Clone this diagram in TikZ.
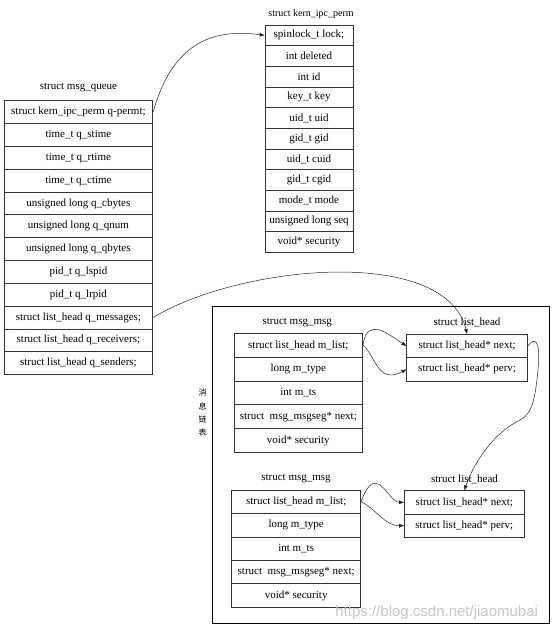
\documentclass[tikz,border=0pt]{standalone}
\usepackage{fontspec}
\setmainfont{Liberation Serif}
\newfontfamily\cjkfont{Noto Sans CJK SC}
\newfontfamily\wmfont{Liberation Sans}
\usetikzlibrary{arrows.meta}
\begin{document}
\begin{tikzpicture}[x=1pt,y=-1pt,
  cell/.style={draw=black!80, line width=0.7pt, inner sep=0pt, font=\fontsize{11}{13}\selectfont},
  title/.style={inner sep=0pt, font=\fontsize{11}{13}\selectfont},
  link/.style={-{Triangle[length=5pt,width=3.6pt]}, line width=0.5pt, draw=black!85},
]
\useasboundingbox (0,0) rectangle (554,630);

% struct msg_queue
\node[title] (tq) at (78.4,87.3) {struct msg\_queue};
\foreach \txt [count=\i] in {{struct kern\_ipc\_perm q-permt;},{time\_t q\_stime},{time\_t q\_rtime},{time\_t q\_ctime},{unsigned long q\_cbytes},{unsigned long q\_qnum},{unsigned long q\_qbytes},{pid\_t q\_lspid},{pid\_t q\_lrpid},{struct list\_head q\_messages;},{struct list\_head q\_receivers;},{struct list\_head q\_senders;}}
  \node[cell, minimum width=148.7pt, minimum height=22.82pt] (q\i) at (78.4,{100.7+(\i-0.5)*22.82}) {\txt};

% struct kern_ipc_perm
\node[title, font=\fontsize{10}{12}\selectfont] (tk) at (311,14) {struct kern\_ipc\_perm};
\foreach \txt [count=\i] in {{spinlock\_t lock;},{int deleted},{int id},{key\_t key},{uid\_t uid},{gid\_t gid},{uid\_t cuid},{gid\_t cgid},{mode\_t mode},{unsigned long seq},{void* security}}
  \node[cell, minimum width=88pt, minimum height=20.66pt] (k\i) at (309,{25+(\i-0.5)*20.66}) {\txt};

% frame
\node[draw=black, line width=0.7pt, minimum width=337.2pt, minimum height=316.6pt, inner sep=0pt] (frame) at (380.9,465) {};
\node[inner sep=0pt, align=center, font=\cjkfont\fontsize{8}{13.3}\selectfont] (lbl) at (202.5,412.7) {消\\息\\链\\表};

% first msg_msg
\node[title] (tma) at (297.2,322.5) {struct msg\_msg};
\foreach \txt [count=\i] in {{struct list\_head m\_list;},{long m\_type},{int m\_ts},{struct\ \ msg\_msgseg* next;},{void* security}}
  \node[cell, minimum width=128.7pt, minimum height=23.8pt] (ma\i) at (298.3,{333.3+(\i-0.5)*23.8}) {\txt};

% first list_head
\node[title] (tla) at (467,322.5) {struct list\_head};
\foreach \txt [count=\i] in {{struct list\_head* next;},{struct list\_head* perv;}}
  \node[cell, minimum width=120.8pt, minimum height=23.35pt] (la\i) at (467.1,{334.3+(\i-0.5)*23.35}) {\txt};

% second msg_msg
\node[title] (tmb) at (296,479) {struct msg\_msg};
\foreach \txt [count=\i] in {{struct list\_head m\_list;},{long m\_type},{int m\_ts},{struct\ \ msg\_msgseg* next;},{void* security}}
  \node[cell, minimum width=129pt, minimum height=23.46pt] (mb\i) at (296.2,{490+(\i-0.5)*23.46}) {\txt};

% second list_head
\node[title] (tlb) at (464.5,479) {struct list\_head};
\foreach \txt [count=\i] in {{struct list\_head* next;},{struct list\_head* perv;}}
  \node[cell, minimum width=120pt, minimum height=23.3pt] (lb\i) at (464.3,{490.7+(\i-0.5)*23.3}) {\txt};

% connectors
\draw[link] (q1.east) .. controls (172,45) and (210,28) .. (k1.west);
\draw[link] (q10.east) .. controls (240,265) and (445,245) .. (la1.north);
\draw[link] (la1.east) .. controls (534,338) and (541,337) .. (538,370)
                       .. controls (535,400) and (532,414) .. (520,420)
                       .. controls (495,432) and (475,460) .. (lb1.north);
\draw[link] (ma1.east) .. controls (367,316) and (388,334) .. (la1.west);
\draw[link] (ma1.east) .. controls (375,355) and (378,385) .. (la2.west);
\draw[link] (mb1.east) .. controls (376,460) and (388,502) .. (lb1.west);
\draw[link] (mb1.east) .. controls (375,508) and (385,526) .. (lb2.west);

% watermark
\node[inner sep=0pt, text=black!22, font=\wmfont\fontsize{15}{18}\selectfont] (wm) at (436.7,613) {https://blog.csdn.net/jiaomubai};
\end{tikzpicture}
\end{document}
